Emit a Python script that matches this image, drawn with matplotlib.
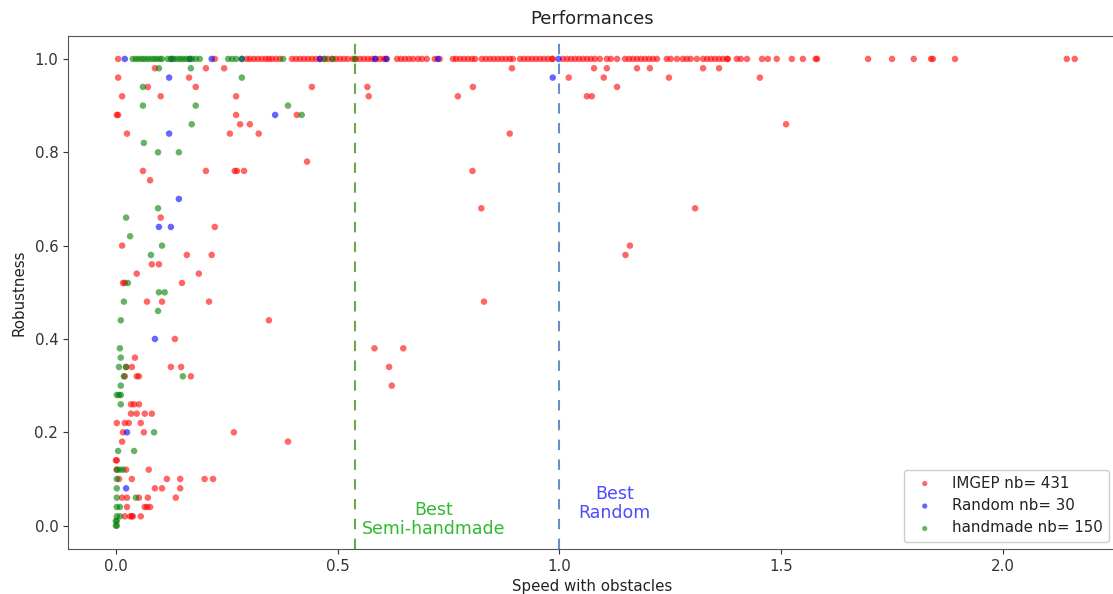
import matplotlib
matplotlib.use("Agg")
import matplotlib.pyplot as plt

# ---------------- data ----------------
# IMGEP points lying on robustness = 1.0
imgep_top_x = [0.005, 0.223, 0.295, 0.302, 0.311, 0.320, 0.329, 0.338, 0.345, 0.352, 0.361, 0.370,
               0.397, 0.406, 0.415, 0.424, 0.433, 0.442, 0.451, 0.460, 0.469, 0.478, 0.487, 0.496,
               0.505, 0.514, 0.523, 0.534, 0.541, 0.550, 0.559, 0.568, 0.577, 0.586, 0.595, 0.604,
               0.611, 0.634, 0.643, 0.652, 0.661, 0.670, 0.681, 0.690, 0.701, 0.719, 0.730,
               0.760, 0.767, 0.776, 0.785, 0.794, 0.803, 0.810, 0.825, 0.834, 0.843, 0.852, 0.861,
               0.870, 0.879, 0.888, 0.895, 0.911, 0.920, 0.929, 0.938, 0.947, 0.956, 0.965, 0.974,
               0.983, 0.985, 1.008, 1.017, 1.026, 1.035, 1.044, 1.053, 1.062, 1.071, 1.080, 1.091,
               1.107, 1.116, 1.130, 1.148, 1.157, 1.166, 1.175, 1.184, 1.193, 1.202, 1.211, 1.220,
               1.242, 1.251, 1.265, 1.278, 1.287, 1.296, 1.310, 1.324, 1.333, 1.342, 1.351, 1.360,
               1.369, 1.378, 1.380, 1.400, 1.409, 1.423, 1.457, 1.470, 1.490, 1.524, 1.549, 1.578,
               1.581, 1.696, 1.750, 1.799, 1.838, 1.842, 1.892, 2.144, 2.162]

# IMGEP points below 1.0
imgep_x = [0.088, 0.203, 0.244, 0.893, 1.078, 1.107, 1.175, 1.204, 1.324, 1.360,
           0.005, 0.165, 1.021, 1.100, 1.247, 1.452,
           0.072, 0.180, 0.442, 0.567, 0.805, 1.130,
           0.014, 0.101, 0.271, 0.570, 0.771, 1.062, 1.073,
           0.002, 0.005, 0.271, 0.408,
           0.280, 0.302, 1.511,
           0.025, 0.257, 0.322, 0.888,
           0.431,
           0.061, 0.203, 0.268, 0.273, 0.289, 0.804,
           0.077,
           0.824, 1.306,
           0.101,
           0.223,
           0.014, 1.159,
           0.160, 0.216, 1.149,
           0.081, 0.097,
           0.047, 0.187,
           0.016, 0.020, 0.149,
           0.070, 0.104, 0.210, 0.830,
           0.345,
           0.133,
           0.583, 0.648,
           0.043,
           0.023, 0.036, 0.124, 0.147, 0.616,
           0.020, 0.047, 0.052, 0.169,
           0.622,
           0.034, 0.041, 0.052,
           0.034, 0.047, 0.065, 0.081,
           0.002, 0.020, 0.029, 0.056,
           0.016, 0.063, 0.266,
           0.014, 0.388,
           0.000, 0.002,
           0.002, 0.023, 0.074,
           0.007, 0.036, 0.115, 0.145, 0.200, 0.219,
           0.088, 0.104, 0.145,
           0.014, 0.025, 0.052, 0.072, 0.135,
           0.025, 0.065, 0.070, 0.077,
           0.020, 0.032, 0.036, 0.038, 0.056]
imgep_y = [0.98, 0.98, 0.98, 0.98, 0.98, 0.98, 0.98, 0.98, 0.98, 0.98,
           0.96, 0.96, 0.96, 0.96, 0.96, 0.96,
           0.94, 0.94, 0.94, 0.94, 0.94, 0.94,
           0.92, 0.92, 0.92, 0.92, 0.92, 0.92, 0.92,
           0.88, 0.88, 0.88, 0.88,
           0.86, 0.86, 0.86,
           0.84, 0.84, 0.84, 0.84,
           0.78,
           0.76, 0.76, 0.76, 0.76, 0.76, 0.76,
           0.74,
           0.68, 0.68,
           0.66,
           0.64,
           0.60, 0.60,
           0.58, 0.58, 0.58,
           0.56, 0.56,
           0.54, 0.54,
           0.52, 0.52, 0.52,
           0.48, 0.48, 0.48, 0.48,
           0.44,
           0.40,
           0.38, 0.38,
           0.36,
           0.34, 0.34, 0.34, 0.34, 0.34,
           0.32, 0.32, 0.32, 0.32,
           0.30,
           0.26, 0.26, 0.26,
           0.24, 0.24, 0.24, 0.24,
           0.22, 0.22, 0.22, 0.22,
           0.20, 0.20, 0.20,
           0.18, 0.18,
           0.14, 0.14,
           0.12, 0.12, 0.12,
           0.10, 0.10, 0.10, 0.10, 0.10, 0.10,
           0.08, 0.08, 0.08,
           0.06, 0.06, 0.06, 0.06, 0.06,
           0.04, 0.04, 0.04, 0.04,
           0.02, 0.02, 0.02, 0.02, 0.02]

# Random points
random_top_x = [0.020, 0.126, 0.167, 0.216, 0.284, 0.460, 0.584, 0.609, 0.726, 0.998]
random_x = [0.120, 0.985, 0.359, 0.120, 0.142, 0.097, 0.124, 0.088, 0.025, 0.023]
random_y = [0.96, 0.96, 0.88, 0.84, 0.70, 0.64, 0.64, 0.40, 0.20, 0.08]

# handmade points
hand_top_x = [0.038, 0.045, 0.052, 0.059, 0.065, 0.072, 0.079, 0.086, 0.092, 0.099, 0.104,
              0.117, 0.124, 0.131, 0.138, 0.145, 0.151, 0.158, 0.165, 0.172, 0.180, 0.189,
              0.253, 0.262, 0.271, 0.284, 0.377, 0.471, 0.489, 0.539]
hand_x = [0.097, 0.169, 0.284, 0.061, 0.061, 0.180, 0.388, 0.419, 0.171, 0.063,
          0.095, 0.142, 0.095, 0.023, 0.032, 0.104, 0.079, 0.027, 0.097, 0.110,
          0.018, 0.095, 0.011, 0.009, 0.011, 0.007, 0.023, 0.018, 0.151, 0.011,
          0.002, 0.007, 0.011, 0.011, 0.086, 0.005, 0.041, 0.002, 0.009, 0.016,
          0.002, 0.002, 0.002, 0.045, 0.002, 0.009, 0.002, 0.009, 0.000, 0.002,
          0.000, 0.002]
hand_y = [0.98, 0.98, 0.96, 0.94, 0.90, 0.90, 0.90, 0.88, 0.86, 0.82,
          0.80, 0.80, 0.68, 0.66, 0.62, 0.60, 0.58, 0.52, 0.50, 0.50,
          0.48, 0.46, 0.44, 0.38, 0.36, 0.34, 0.34, 0.32, 0.32, 0.30,
          0.28, 0.28, 0.28, 0.26, 0.20, 0.16, 0.16, 0.12, 0.12, 0.12,
          0.10, 0.08, 0.06, 0.06, 0.04, 0.04, 0.02, 0.02, 0.00, 0.00,
          0.01, 0.01]

labels = ["IMGEP nb= 431", "Random nb= 30", "handmade nb= 150"]
best_handmade = 0.539
best_random = 1.0

# ---------------- figure ----------------
W, H = 1113, 594
fig = plt.figure(figsize=(W / 100, H / 100), dpi=100)
ax = fig.add_axes([68 / W, 1 - 549 / H, (1116 - 68) / W, (549 - 35.6) / H])

fs = 10.8
ax.scatter(imgep_top_x + imgep_x, [1.0] * len(imgep_top_x) + imgep_y,
           s=22, c="red", alpha=0.6, edgecolors="none", label=labels[0])
ax.scatter(random_top_x + random_x, [1.0] * len(random_top_x) + random_y,
           s=22, c="blue", alpha=0.6, edgecolors="none", label=labels[1])
ax.scatter(hand_top_x + hand_x, [1.0] * len(hand_top_x) + hand_y,
           s=22, c="green", alpha=0.6, edgecolors="none", label=labels[2])

ax.axvline(best_handmade, color="#6aa84f", lw=1.5, ls=(0, (5, 4.5)))
ax.axvline(best_random, color="#6a8fc7", lw=1.5, ls=(0, (5, 4.5)))

ax.text(0.717, 0.013, "Best\nSemi-handmade", color="#2fba2f", fontsize=12.5,
        ha="center", va="center", linespacing=1.1)
ax.text(1.125, 0.048, "Best\nRandom", color="#4a4aff", fontsize=12.5,
        ha="center", va="center", linespacing=1.1)

ax.set_xlim(-0.108, 2.255)
ax.set_ylim(-0.05, 1.05)
ax.set_xticks([0.0, 0.5, 1.0, 1.5, 2.0])
ax.set_yticks([0.0, 0.2, 0.4, 0.6, 0.8, 1.0])
ax.tick_params(labelsize=fs, colors="#333333")
for sp in ax.spines.values():
    sp.set_color("#555555")

ax.set_title("Performances", fontsize=13, color="#222222", pad=8)
ax.set_xlabel("Speed with obstacles", fontsize=fs, color="#222222", labelpad=4)
ax.set_ylabel("Robustness", fontsize=fs, color="#222222", labelpad=6)

ax.legend(loc="lower right", fontsize=fs, scatterpoints=1, markerscale=0.8,
          framealpha=1.0, edgecolor="#cccccc", labelcolor="#222222")

fig.savefig("out.png", dpi=100)
